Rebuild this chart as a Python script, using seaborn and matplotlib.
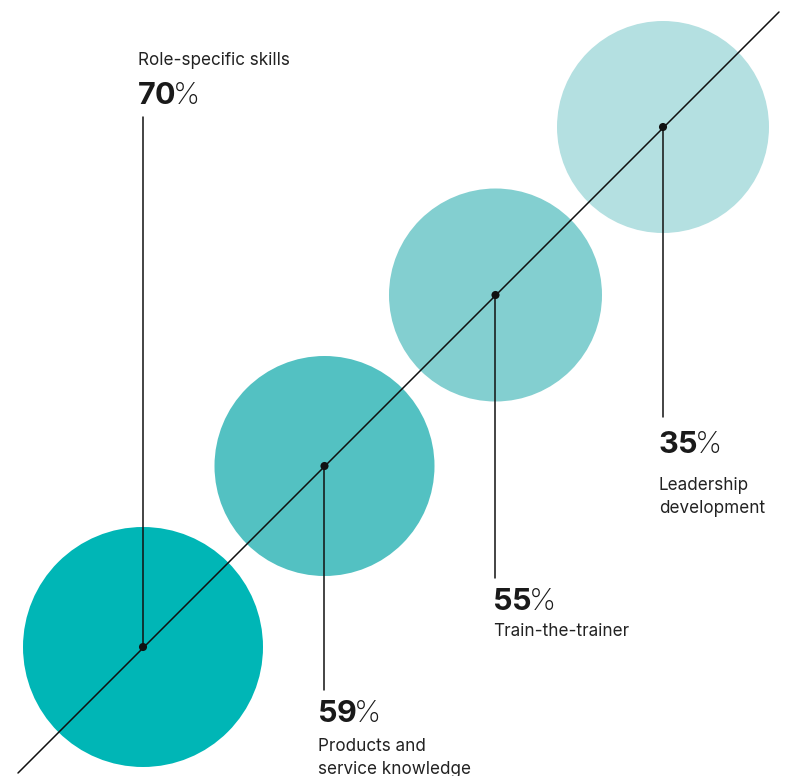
import matplotlib
matplotlib.use("Agg")
import matplotlib.pyplot as plt
from matplotlib.patches import Circle
import seaborn as sns
import pandas as pd

# ---- data ----
categories = ["Role-specific skills", "Products and\nservice knowledge",
              "Train-the-trainer", "Leadership\ndevelopment"]
values = [70, 59, 55, 35]

# ---- layout / style (pixel coordinates) ----
center_x = [143, 324.5, 495.5, 663]
center_y = [647, 466, 295, 127]
radii = [120, 110, 106.5, 106]
colors = ["#00B6B6", "#53C1C2", "#83CFD0", "#B4E0E1"]
stem_end_y = [117, 690, 578, 417]
label_x = [137, 317, 492, 658]
num_baseline = [103.5, 722, 610, 453]
cat_baseline = [65, 751, 636, 490]
cat_x = [138, 318, 493, 659]
line_step = 23

sns.set_theme(style="white")
plt.rcParams["font.family"] = ["Inter", "DejaVu Sans"]
plt.rcParams["mathtext.fontset"] = "custom"
plt.rcParams["mathtext.bf"] = "Inter:bold"
plt.rcParams["mathtext.rm"] = "Inter"

fig = plt.figure(figsize=(7.89, 7.76), dpi=100)
ax = fig.add_axes([0, 0, 1, 1])

df = pd.DataFrame({"category": categories, "value": values,
                   "x": center_x, "y": center_y})

for cx, cy, r, c in zip(center_x, center_y, radii, colors):
    ax.add_patch(Circle((cx, cy), r, facecolor=c, edgecolor="none", zorder=1))

# diagonal line
ax.plot([18, 779], [773, 12], color="#111111", lw=1.1, zorder=2)

# stems
for cx, cy, ey in zip(center_x, center_y, stem_end_y):
    ax.plot([cx, cx], [cy, ey], color="#111111", lw=1.1, zorder=2)

sns.scatterplot(data=df, x="x", y="y", color="#111111", s=34,
                edgecolor="none", zorder=3, ax=ax, legend=False)
ax.set_xlim(0, 789)
ax.set_ylim(776, 0)
ax.axis("off")

txt_color = "#1a1a1a"
for cat, val, lx, nb, cb, tx in zip(categories, values, label_x,
                                     num_baseline, cat_baseline, cat_x):
    ax.text(lx, nb, r"$\mathbf{" + f"{val}" + r"}\hspace{-0.08}$%",
            fontsize=22, fontweight="light", color=txt_color,
            va="baseline", ha="left", zorder=4)
    for i, line in enumerate(cat.split("\n")):
        ax.text(tx, cb + i * line_step, line, fontsize=12.3,
                color="#222222", va="baseline", ha="left", zorder=4)

fig.savefig("out.png", dpi=100, facecolor="white")
